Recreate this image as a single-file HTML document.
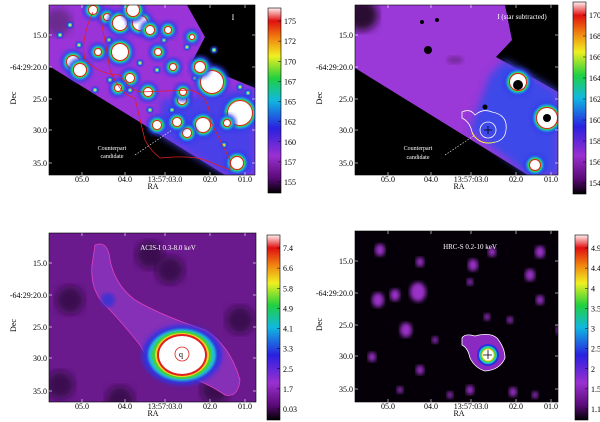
<!DOCTYPE html>
<html><head><meta charset="utf-8"><style>
html,body{margin:0;padding:0;background:#fff;width:600px;height:422px;overflow:hidden}
svg text{font-family:"Liberation Serif",serif;font-size:8px}
</style></head><body>
<svg id="fig" width="600" height="422" viewBox="0 0 600 422" xmlns="http://www.w3.org/2000/svg">
<defs>
<linearGradient id="cb" x1="0" y1="1" x2="0" y2="0">
<stop offset="0" stop-color="#000"/><stop offset="0.08" stop-color="#5a0a78"/><stop offset="0.2" stop-color="#9a30d0"/>
<stop offset="0.35" stop-color="#2a20e0"/><stop offset="0.5" stop-color="#10b8e0"/><stop offset="0.62" stop-color="#20d040"/>
<stop offset="0.74" stop-color="#f0f020"/><stop offset="0.84" stop-color="#f08010"/><stop offset="0.93" stop-color="#e01010"/><stop offset="1" stop-color="#fff0f0"/>
</linearGradient>
<filter id="bl1"><feGaussianBlur stdDeviation="1"/></filter>
<filter id="bl2"><feGaussianBlur stdDeviation="2"/></filter>
<filter id="bl4"><feGaussianBlur stdDeviation="4"/></filter>
<clipPath id="c1"><rect x="49" y="5" width="206" height="170"/></clipPath>
<clipPath id="c2"><rect x="355" y="5" width="203" height="170"/></clipPath>
<clipPath id="c3"><rect x="49" y="233" width="207" height="169"/></clipPath>
<clipPath id="c4"><rect x="355" y="231" width="203" height="171"/></clipPath>
</defs>
<g id="p1"></g>
<g id="p2"></g>
<g id="p3"></g>
<g id="p4"></g>
</svg>
<script>
const decLabels = ["15.0","-64:29:20.0","25.0","30.0","35.0"];
const raLabels = ["05.0","04.0","13:57:03.0","02.0","01.0"];
const cb1 = ["175","172","170","167","165","162","160","157","155"];
const cb2 = ["170","168","166","164","162","160","158","156","154"];
const cb3 = ["7.4","6.6","5.8","4.9","4.1","3.3","2.5","1.7","0.03"];
const cb4 = ["4.9","4.4","4","3.5","3","2.5","2","1.5","1.1"];
const stars1 = [[44,5,4],[58,12,3],[71,18,7],[91,18,7],[84,5,6],[101,25,4],[119,25,3],[143,32,2],[71,47,8],[24,57,6],[31,65,6],[49,47,3],[109,47,3],[124,62,3],[163,77,11],[151,62,5],[191,108,12],[154,120,7],[138,128,4],[108,120,4],[128,117,4],[133,95,4],[134,87,3],[99,87,4],[81,73,4],[69,83,3],[188,158,6],[178,118,3]];
const dots1 = [[46,85],[61,75],[91,58],[108,65],[101,105],[123,105],[81,85],[11,30],[21,20],[138,42],[146,73],[191,82],[199,88],[30,40],[60,35],[115,35],[165,45],[175,140],[210,140]];
const NS="http://www.w3.org/2000/svg";
function el(p,t,a){const e=document.createElementNS(NS,t);for(const k in a)e.setAttribute(k,a[k]);p.appendChild(e);return e;}
function txt(p,x,y,s,anchor,name,col,fs){const t=el(p,'text',{x:x,y:y,'text-anchor':anchor||'middle'});t.textContent=s;
t.style.fill=col||'#000';if(fs)t.style.fontSize=fs+'px';


return t;}
function axes(g,x0,y0,w,h,cbx,cby,cbh,cbl){
  el(g,'rect',{x:x0,y:y0,width:w,height:h,fill:'none',stroke:'#000','stroke-width':0.6});
  const dy=[30,62,94,125,158], dx=[33,76,116,161,196];
  decLabels.forEach((s,i)=>{txt(g,x0-2,y0+dy[i]+3,s,'end','dec-tick-label');el(g,'line',{x1:x0,y1:y0+dy[i],x2:x0+3,y2:y0+dy[i],stroke:'#fff','stroke-width':0.6});el(g,'line',{x1:x0+w,y1:y0+dy[i],x2:x0+w-3,y2:y0+dy[i],stroke:'#fff','stroke-width':0.6});});
  raLabels.forEach((s,i)=>{txt(g,x0+dx[i],y0+h+7,s,'middle','ra-tick-label');el(g,'line',{x1:x0+dx[i],y1:y0+h,x2:x0+dx[i],y2:y0+h-3,stroke:'#fff','stroke-width':0.6});el(g,'line',{x1:x0+dx[i],y1:y0,x2:x0+dx[i],y2:y0+3,stroke:'#fff','stroke-width':0.6});});
  txt(g,x0+104,y0+h+14,'RA','middle','x-axis-title');
  const d=txt(g,x0-33,y0+h/2+8,'Dec','middle','y-axis-title');d.setAttribute('transform',`rotate(-90 ${x0-33} ${y0+h/2+8})`);
  const cb=el(g,'rect',{x:cbx,y:cby,width:13,height:cbh,fill:'url(#cb)',stroke:'#000','stroke-width':0.6});
  
  
  cbl.forEach((s,i)=>{const yy=cby+13+i*(cbh-24)/(cbl.length-1);txt(g,cbx+16,yy+3,s,'start','colorbar-tick-label');el(g,'line',{x1:cbx+10,y1:yy,x2:cbx+13,y2:yy,stroke:'#000','stroke-width':0.5});});
}
function star(g,x,y,r,rim){
  el(g,'circle',{cx:x,cy:y,r:r+6,fill:'#3038e8',filter:'url(#bl2)'});
  el(g,'circle',{cx:x,cy:y,r:r+3.5,fill:'#18c0d8',filter:'url(#bl1)'});
  el(g,'circle',{cx:x,cy:y,r:r+2,fill:'#40d040'});
  el(g,'circle',{cx:x,cy:y,r:r+1,fill:rim||'#f0d020'});
  el(g,'circle',{cx:x,cy:y,r:r,fill:'#fff'});
}
// Panel 1
(function(){const g=document.getElementById('p1');const X=49,Y=5;
 const c=el(g,'g',{'clip-path':'url(#c1)'});
 el(c,'rect',{x:X,y:Y,width:206,height:170,fill:'#000'});
 el(c,'polygon',{points:'49,5 187,5 205,37 192,62 255,88 255,175 225,175 49,66',fill:'#9a34d8'});
 el(c,'polygon',{points:'160,100 255,88 255,175 225,175 160,135',fill:'#4a40e8',filter:'url(#bl4)'});
 el(c,'circle',{cx:58,cy:22,r:14,fill:'#6a2a90',filter:'url(#bl4)'});
 dots1.forEach(d=>{el(c,'circle',{cx:X+d[0],cy:Y+d[1],r:3.5,fill:'#2a40e0',filter:'url(#bl1)'});el(c,'circle',{cx:X+d[0],cy:Y+d[1],r:2,fill:'#30c8c0'});el(c,'circle',{cx:X+d[0],cy:Y+d[1],r:1,fill:'#f0e040'});});
 stars1.forEach(s=>star(c,X+s[0],Y+s[1],s[2],'#e02020'));
 el(c,'path',{d:'M93,12 Q80,40 85,60 Q100,75 120,75 Q130,90 140,92 L190,90 Q210,95 210,120 Q220,140 230,160 L230,170 L205,160 Q190,155 160,158 Q150,150 145,140 Q140,120 135,98 Q120,95 110,70 Q105,40 100,15',fill:'none',stroke:'#e02020','stroke-width':0.8});
 txt(g,233,20,'I','middle','band-label','#fff');
 txt(g,112,150,'Counterpart','middle','counterpart-annotation','#fff',6);
 txt(g,112,158,'candidate','middle','counterpart-annotation','#fff',6);
 el(g,'line',{x1:135,y1:155,x2:172,y2:130,stroke:'#fff','stroke-width':0.6,'stroke-dasharray':'1.5,1.5'});
 axes(g,X,Y,206,170,268,8,185,cb1);})();
// Panel 2
(function(){const g=document.getElementById('p2');const X=355,Y=5;
 const c=el(g,'g',{'clip-path':'url(#c2)'});
 el(c,'rect',{x:X,y:Y,width:203,height:170,fill:'#000'});
 el(c,'polygon',{points:'355,5 505,5 512,40 496,57 558,92 558,175 528,175 355,68',fill:'#9a38d8'});
 el(c,'polygon',{points:'490,75 505,60 558,92 558,175 528,175 470,130',fill:'#3c48e8',filter:'url(#bl4)'});
 el(c,'circle',{cx:362,cy:15,r:16,fill:'#2a0a30',filter:'url(#bl4)'});
 el(c,'ellipse',{cx:455,cy:60,rx:8,ry:4,fill:'#7a2aa0',filter:'url(#bl2)'});
 [[422,22,2],[437,20,2],[428,50,4],[485,107,2.5]].forEach(s=>el(c,'circle',{cx:s[0],cy:s[1],r:s[2],fill:'#000'}));
 star(c,518,82,8,'#e02020');star(c,547,118,10,'#e02020');star(c,535,165,5,'#e02020');
 el(c,'circle',{cx:518,cy:85,r:5,fill:'#000'});el(c,'circle',{cx:547,cy:118,r:4,fill:'#000'});
 el(c,'path',{d:'M462,112 Q470,108 475,115 Q483,108 492,112 Q508,115 506,130 Q505,142 490,143 Q478,144 472,132 Q470,122 462,118 Z',fill:'none',stroke:'#fff','stroke-width':0.8});
 el(c,'circle',{cx:488,cy:130,r:8,fill:'none',stroke:'#fff','stroke-width':0.8});
 el(c,'path',{d:'M472,133 Q480,146 495,142',fill:'none',stroke:'#f0f020','stroke-width':0.8});
 el(c,'path',{d:'M484,130h8M488,126v8',stroke:'#000','stroke-width':0.8});
 txt(g,522,19,'I (star subtracted)','middle','band-label','#fff',7);
 txt(g,418,150,'Counterpart','middle','counterpart-annotation','#fff',6);
 txt(g,418,159,'candidate','middle','counterpart-annotation','#fff',6);
 el(g,'line',{x1:445,y1:155,x2:475,y2:135,stroke:'#fff','stroke-width':0.6,'stroke-dasharray':'1.5,1.5'});
 axes(g,X,Y,203,170,573,2,192,cb2);})();
// Panel 3
(function(){const g=document.getElementById('p3');const X=49,Y=233;
 const c=el(g,'g',{'clip-path':'url(#c3)'});
 el(c,'rect',{x:X,y:Y,width:207,height:169,fill:'#6a1a8c'});
 [[70,300],[60,385],[150,255],[240,320],[215,390],[120,400],[170,270]].forEach(p=>el(c,'circle',{cx:p[0],cy:p[1],r:14,fill:'#3a0a50',filter:'url(#bl4)'}));
 el(c,'path',{d:'M95,245 Q108,240 110,260 Q115,285 135,300 Q160,315 205,330 Q230,345 240,380 Q238,398 225,395 Q200,378 170,372 Q150,366 140,345 Q120,320 105,305 Q90,290 92,265 Z',fill:'#8630b8',stroke:'#e040c0','stroke-width':0.8});
 el(c,'circle',{cx:108,cy:300,r:7,fill:'#4030d0',filter:'url(#bl2)'});
 el(c,'ellipse',{cx:182,cy:355,rx:40,ry:30,fill:'#3030e0',filter:'url(#bl2)'});
 el(c,'ellipse',{cx:182,cy:355,rx:34,ry:26,fill:'#20c0d0',filter:'url(#bl1)'});
 el(c,'ellipse',{cx:182,cy:355,rx:30,ry:24,fill:'#40d040'});
 el(c,'ellipse',{cx:182,cy:355,rx:27,ry:22,fill:'#f0d020'});
 el(c,'ellipse',{cx:182,cy:355,rx:25,ry:21,fill:'#e02020'});
 el(c,'ellipse',{cx:182,cy:355,rx:23,ry:19,fill:'#fff'});
 el(c,'circle',{cx:182,cy:354,r:7,fill:'none',stroke:'#e02020','stroke-width':0.8});
 txt(c,181,357,'q','middle','source-marker','#000',8);
 txt(g,168,250,'ACIS-I  0.3-8.0 keV','middle','band-label','#fff',7);
 axes(g,X,Y,207,169,267,235,185,cb3);})();
// Panel 4
(function(){const g=document.getElementById('p4');const X=355,Y=231;
 const c=el(g,'g',{'clip-path':'url(#c4)'});
 el(c,'rect',{x:X,y:Y,width:203,height:171,fill:'#050008'});
 [[380,250,5],[420,262,4],[473,265,5],[492,252,4],[540,252,5],[530,275,5],[378,300,6],[395,295,5],[418,292,8],[470,282,3],[540,300,4],[406,330,6],[435,340,3],[510,320,3],[560,330,4],[372,357,4],[420,370,4],[470,390,4],[513,392,4],[535,395,3],[450,395,3],[400,390,3],[487,317,3]].forEach(b=>el(c,'ellipse',{cx:b[0],cy:b[1],rx:b[2],ry:b[2]*1.2,fill:'#9a30c8',filter:'url(#bl2)'}));
 el(c,'path',{d:'M462,338 Q465,333 475,336 Q490,332 497,338 Q505,348 505,358 Q500,370 485,371 Q475,368 470,358 Q468,348 462,345 Z',fill:'#8a2ac0',stroke:'#fff','stroke-width':0.8});
 el(c,'circle',{cx:488,cy:355,r:11,fill:'#2a30e0'});
 el(c,'circle',{cx:488,cy:355,r:9,fill:'#20c8c0'});
 el(c,'circle',{cx:488,cy:355,r:7.5,fill:'#40d040'});
 el(c,'circle',{cx:488,cy:355,r:6.5,fill:'#f0d020'});
 el(c,'circle',{cx:488,cy:355,r:5.5,fill:'#fff'});
 el(c,'path',{d:'M483,355h9M488,350v9',stroke:'#000','stroke-width':0.8});
 txt(g,470,249,'HRC-S  0.2-10 keV','middle','band-label','#fff',7);
 axes(g,X,Y,203,171,575,235,185,cb4);})();
</script>
</body></html>
